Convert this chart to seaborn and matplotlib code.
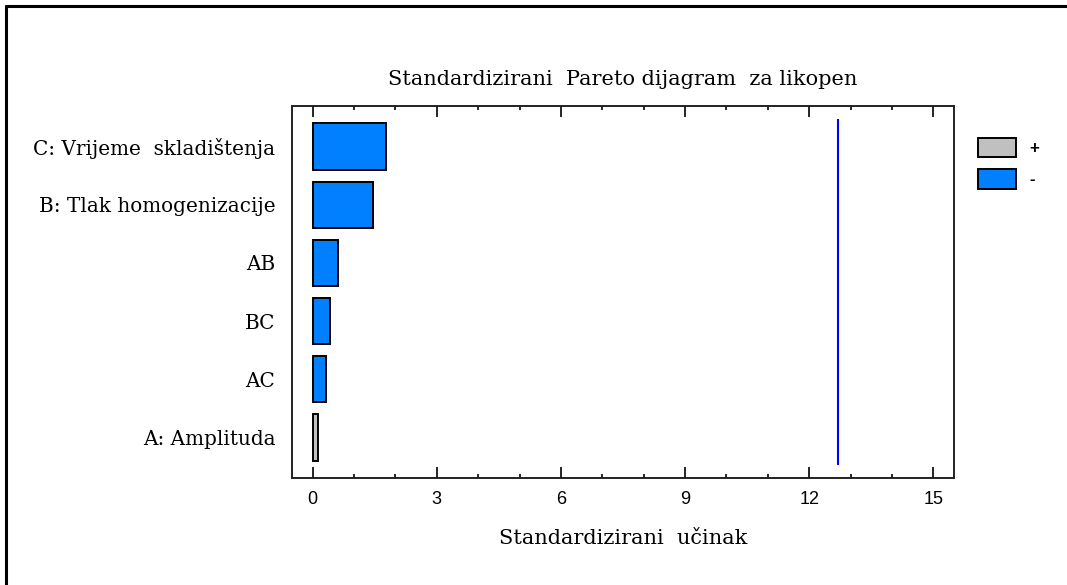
import matplotlib
matplotlib.use("Agg")
import matplotlib.pyplot as plt
from matplotlib.lines import Line2D
from matplotlib.ticker import MultipleLocator
import seaborn as sns
import pandas as pd

factors = ["C: Vrijeme  skladištenja", "B: Tlak homogenizacije", "AB", "BC", "AC", "A: Amplituda"]
effects = [1.78, 1.46, 0.61, 0.43, 0.32, 0.14]
signs = ["-", "-", "-", "-", "-", "+"]
critical_t = 12.706
xticks = [0, 3, 6, 9, 12, 15]

sns.set_theme(style="white")
plt.rcParams["font.family"] = ["DejaVu Serif", "Liberation Serif"]
plt.rcParams["text.color"] = "black"
plt.rcParams["axes.labelcolor"] = "black"
plt.rcParams["xtick.color"] = "black"
plt.rcParams["ytick.color"] = "black"

df = pd.DataFrame({"factor": factors, "effect": effects, "sign": signs})

fig = plt.figure(figsize=(10.67, 5.85), dpi=100)
ax = fig.add_axes([292 / 1067, 1 - 478 / 585, (954 - 292) / 1067, (478 - 106) / 585])

sns.barplot(data=df, x="effect", y="factor", hue="sign", hue_order=["+", "-"],
            palette={"+": "#C0C0C0", "-": "#0080FF"}, order=factors, saturation=1,
            dodge=False, width=0.8, edgecolor="black", linewidth=1.4,
            orient="h", ax=ax, legend=True)

n = len(factors)
ax.vlines(critical_t, -0.47, n - 0.53, color="#0000FF", linewidth=1.5)

ax.set_xlim(-0.5, 15.5)
ax.set_ylim(n - 0.3, -0.7)
ax.set_xticks(xticks)
ax.xaxis.set_minor_locator(MultipleLocator(1))
ax.tick_params(axis="x", which="major", direction="in", length=8, width=1.2,
               top=True, bottom=True, color="black", pad=9.5, labelsize=13)
ax.tick_params(axis="x", which="minor", direction="in", length=3, width=1.2,
               top=True, bottom=True, color="black")
ax.tick_params(axis="y", length=0, pad=12, labelsize=14.4)
for lbl in ax.get_xticklabels():
    lbl.set_family(["Liberation Sans", "DejaVu Sans"])
for s in ax.spines.values():
    s.set_color("#222222")
    s.set_linewidth(1.4)

ax.set_ylabel("")
ax.set_xlabel("Standardizirani  učinak", fontsize=15, labelpad=15)
ax.set_title("Standardizirani  Pareto dijagram  za likopen", fontsize=15, pad=15)

handles, labels = ax.get_legend_handles_labels()
leg = ax.legend(handles, labels, loc="upper left", bbox_to_anchor=(1.026, 0.933),
                frameon=False, fontsize=12, handlelength=2.26, handleheight=1.45,
                labelspacing=0.7, handletextpad=0.8, borderaxespad=0)
for t in leg.get_texts():
    t.set_family(["Liberation Sans", "DejaVu Sans"])
    t.set_fontweight("bold")
    t.set_color("black")

fig.add_artist(Line2D([6 / 1067, 6 / 1067], [0, 1 - 6 / 585], color="black", linewidth=2.2))
fig.add_artist(Line2D([6 / 1067, 1], [1 - 6 / 585, 1 - 6 / 585], color="black", linewidth=2.2))

fig.savefig("out.png", dpi=100, facecolor="white")
